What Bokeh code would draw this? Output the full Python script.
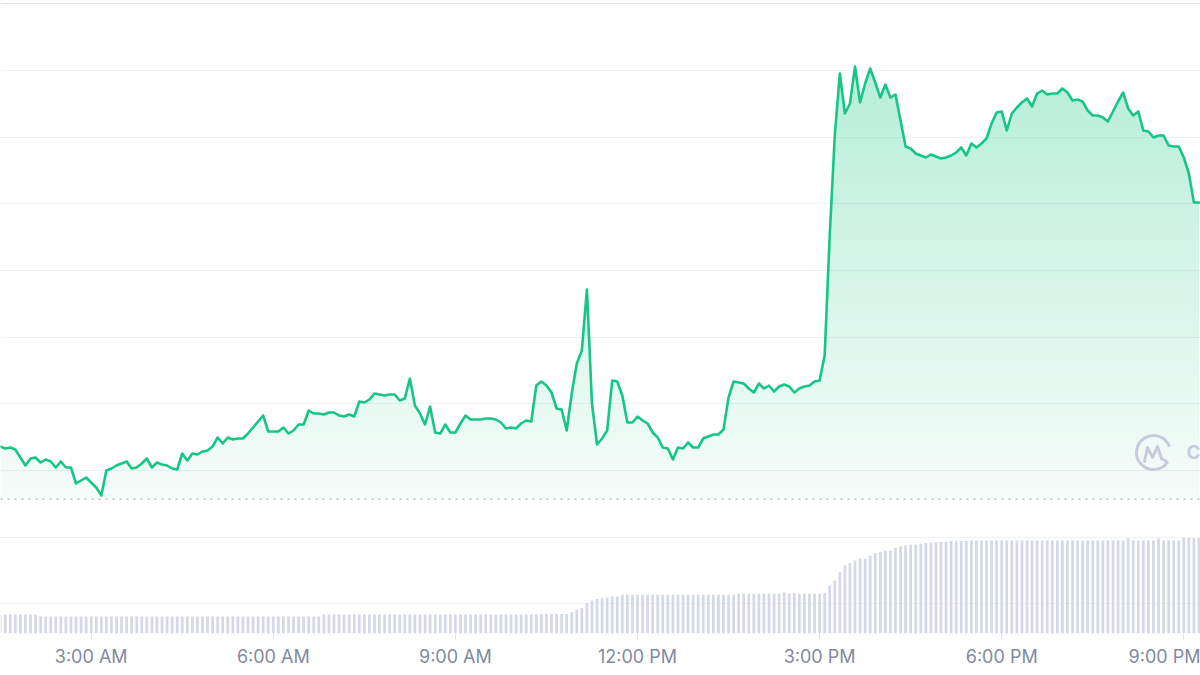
import numpy as np
from bokeh.plotting import figure
from bokeh.models import Range1d, FixedTicker, Grid, Span
from bokeh.core.properties import value
from bokeh.embed import file_html
from bokeh.resources import INLINE

# ---------------- data ----------------
START_HOUR = 1.5      # first sample at 1:30 AM
STEP_MIN = 5          # 5-minute samples

price = [
    1.536, 1.533, 1.5345, 1.5315, 1.5195, 1.5075, 1.518, 1.5195, 1.512, 1.5165,
    1.5135, 1.5045, 1.5135, 1.5045, 1.5045, 1.4805, 1.485, 1.4895, 1.482, 1.4745,
    1.4625, 1.5, 1.503, 1.5075, 1.5105, 1.5135, 1.503, 1.5045, 1.5105, 1.518,
    1.5045, 1.512, 1.509, 1.5075, 1.503, 1.5015, 1.5255, 1.515, 1.5255, 1.524,
    1.5285, 1.53, 1.536, 1.5495, 1.5405, 1.5495, 1.5465, 1.548, 1.548, 1.5555,
    1.5645, 1.5735, 1.5825, 1.5585, 1.5585, 1.5585, 1.5645, 1.5555, 1.56, 1.569,
    1.569, 1.59, 1.5855, 1.5855, 1.584, 1.587, 1.587, 1.5825, 1.581, 1.584,
    1.581, 1.6035, 1.602, 1.6065, 1.6155, 1.614, 1.6125, 1.614, 1.614, 1.605,
    1.608, 1.638, 1.5975, 1.5855, 1.569, 1.596, 1.557, 1.5555, 1.569, 1.557,
    1.557, 1.5705, 1.5825, 1.5765, 1.5765, 1.5765, 1.578, 1.578, 1.5765, 1.572,
    1.563, 1.5645, 1.563, 1.5705, 1.575, 1.5735, 1.6275, 1.6335, 1.6275, 1.617,
    1.593, 1.5915, 1.56, 1.6155, 1.6605, 1.68, 1.7715, 1.6005, 1.539, 1.548,
    1.56, 1.635, 1.6335, 1.6125, 1.572, 1.572, 1.581, 1.575, 1.5705, 1.557,
    1.5495, 1.5345, 1.533, 1.5165, 1.5345, 1.533, 1.542, 1.5345, 1.5345, 1.548,
    1.551, 1.554, 1.554, 1.5615, 1.6095, 1.6335, 1.632, 1.6305, 1.623, 1.617,
    1.6305, 1.623, 1.6275, 1.6185, 1.626, 1.629, 1.626, 1.617, 1.623, 1.626,
    1.6275, 1.6335, 1.635, 1.6725, 1.8525, 2.0025, 2.0955, 2.0355, 2.0505, 2.106,
    2.052, 2.0805, 2.103, 2.082, 2.0595, 2.079, 2.0595, 2.064, 2.025, 1.986,
    1.983, 1.9755, 1.9725, 1.9695, 1.974, 1.971, 1.968, 1.9695, 1.9725, 1.977,
    1.9845, 1.9725, 1.9905, 1.9845, 1.9905, 1.998, 2.0205, 2.037, 2.0385, 2.01,
    2.0355, 2.0445, 2.052, 2.058, 2.046, 2.0655, 2.07, 2.064, 2.0655, 2.0655,
    2.073, 2.067, 2.055, 2.0565, 2.0535, 2.04, 2.0325, 2.0325, 2.0295, 2.0235,
    2.0385, 2.0535, 2.067, 2.043, 2.0325, 2.0385, 2.01, 2.0085, 1.9995, 2.0025,
    2.0025, 1.9875, 1.986, 1.986, 1.9695, 1.9455, 1.902, 1.902,
]

volume = [
    0.95, 0.95, 0.95, 0.95, 0.95, 0.95, 0.95, 0.95,
    0.85, 0.85, 0.85, 0.85, 0.85, 0.85, 0.85, 0.85, 0.85, 0.85,
    0.85, 0.85, 0.85, 0.85, 0.85, 0.85, 0.85, 0.85, 0.85, 0.85,
    0.85, 0.85, 0.85, 0.85, 0.85, 0.85, 0.85, 0.85, 0.85, 0.85,
    0.85, 0.85, 0.85, 0.85, 0.85, 0.85, 0.85, 0.85, 0.85, 0.85,
    0.85, 0.85, 0.85, 0.85, 0.85, 0.85, 0.85, 0.85, 0.85, 0.85,
    0.85, 0.85, 0.85, 0.85, 0.85, 0.85,
    0.95, 0.95, 0.95, 0.95, 0.95, 0.95, 0.95, 0.95, 0.95, 0.95,
    0.95, 0.95, 0.95, 0.95, 0.95, 0.95, 0.95, 0.95, 0.95, 0.95,
    0.95, 0.95, 0.95, 0.95, 0.95, 0.95, 0.95, 0.95, 0.95, 0.95,
    0.95, 0.95, 0.95, 0.95, 0.95, 0.95, 0.95, 0.95, 0.95, 0.95,
    0.95, 0.95,
    0.98, 0.98, 0.98, 0.98, 0.98, 0.98, 0.98,
    1.07, 1.19, 1.27, 1.52, 1.65, 1.72, 1.77, 1.79, 1.85, 1.85,
    1.94, 1.94, 1.94, 1.94, 1.94, 1.94, 1.94, 1.94, 1.94, 1.94,
    1.94, 1.94, 1.94, 1.94, 1.94, 1.94, 1.94, 1.94, 1.94, 1.94,
    1.94, 1.94, 1.94,
    1.99, 1.99, 1.99, 1.99, 1.99, 1.99, 1.99, 1.99, 1.99, 2.05,
    1.99, 2.03, 1.99, 1.99, 1.99, 1.99, 1.99,
    2.03, 2.40, 2.65, 3.07, 3.40, 3.52, 3.65, 3.74, 3.74, 3.90,
    4.02, 4.07, 4.15, 4.15, 4.27, 4.35, 4.40, 4.44, 4.45, 4.49,
    4.52, 4.54, 4.57, 4.57, 4.57, 4.62, 4.62, 4.62, 4.62,
    4.65, 4.65, 4.65, 4.65, 4.65, 4.65, 4.65, 4.65, 4.65, 4.65,
    4.65, 4.65, 4.65, 4.65, 4.65, 4.65, 4.65, 4.65, 4.65, 4.65,
    4.65, 4.65, 4.65, 4.65, 4.65, 4.65, 4.65, 4.65, 4.65, 4.65,
    4.65, 4.75, 4.65, 4.65, 4.65, 4.65, 4.65, 4.75, 4.65, 4.65,
    4.65, 4.65, 4.77, 4.77, 4.77, 4.77,
]

open_price = 1.457
tick_hours = [3, 6, 9, 12, 15, 18, 21]
tick_labels = ["3:00 AM", "6:00 AM", "9:00 AM", "12:00 PM", "3:00 PM", "6:00 PM", "9:00 PM"]
grid_levels = [1.3, 1.4, 1.5, 1.6, 1.7, 1.8, 1.9, 2.0, 2.1]

# ---------------- layout constants ----------------
X_START, X_END = 1.5058, 21.275
Y_BOT, Y_TOP = 1.2555, 2.205
VOL_MAX = 31.65
GREEN = "#16c784"

t = START_HOUR + np.arange(len(price)) * STEP_MIN / 60.0
pr = np.array(price, dtype=float)

p = figure(frame_width=1200, frame_height=633, output_backend="svg",
           toolbar_location=None, x_range=Range1d(X_START, X_END),
           y_range=Range1d(Y_BOT, Y_TOP), y_axis_location=None,
           min_border=0, min_border_bottom=42)
p.extra_y_ranges = {"vol": Range1d(0, VOL_MAX)}
p.outline_line_color = None
p.background_fill_color = "white"
p.border_fill_color = "white"
p.xgrid.visible = False

grid = Grid(dimension=1, ticker=FixedTicker(ticks=grid_levels),
            grid_line_color="#eff1f4", grid_line_width=1)
p.add_layout(grid)

# volume bars
p.vbar(x=t, top=volume, bottom=0, width=0.045, y_range_name="vol",
       fill_color="#d3d9e8", line_color=None)

# gradient area: horizontal bands with increasing alpha
band = 0.012
k = np.arange(0, int((Y_TOP - open_price) / band) + 1)
edges = Y_TOP - k * band
edges = edges[edges > open_price + 1e-9]
edges = np.sort(np.append(edges, open_price))

xd, yd = [t[0]], [pr[0]]
for i in range(len(pr) - 1):
    x0, y0, x1, y1 = t[i], pr[i], t[i + 1], pr[i + 1]
    if y1 != y0:
        lo, hi = min(y0, y1), max(y0, y1)
        cr = edges[(edges > lo) & (edges < hi)]
        if y1 < y0:
            cr = cr[::-1]
        for e in cr:
            xd.append(x0 + (e - y0) / (y1 - y0) * (x1 - x0))
            yd.append(e)
    xd.append(x1)
    yd.append(y1)
xd = np.array(xd)
yd = np.array(yd)

bxs, bys, bal = [], [], []
for lo, hi in zip(edges[:-1], edges[1:]):
    if pr.max() <= lo:
        continue
    top = np.clip(yd, lo, hi)
    bxs.append(np.concatenate([xd, xd[::-1]]).tolist())
    bys.append(np.concatenate([top, np.full(len(xd), lo)]).tolist())
    mid = 0.5 * (lo + hi)
    bal.append(float(np.clip(0.04 + 0.27 * (mid - open_price) / 0.648, 0.0, 0.32)))

p.patches(xs=bxs, ys=bys, fill_color=GREEN, fill_alpha=bal, line_color=None)

# open-price dotted line
p.add_layout(Span(location=open_price, dimension="width", line_color="#b9c0cc",
                  line_width=1.5, line_dash="2 5"))

# price line
p.line(t, pr, line_color=GREEN, line_width=2.6, line_join="round", line_cap="round")

# watermark logo
LOGO_X, LOGO_Y = 20.5005, 1.527
PX_H, PX_P = 1 / 60.70, 0.0015
LOGO_C = "#c6ccdc"
p.arc(x=[LOGO_X], y=[LOGO_Y], radius=17, radius_units="screen",
      start_angle=0.35, end_angle=5.73, direction="anticlock",
      line_color=LOGO_C, line_width=3)
m_dx = [-9, -6, -1, 4, 8, 13]
m_dy = [9, -5, 5, -6, 6, 9]
p.line([LOGO_X + d * PX_H for d in m_dx], [LOGO_Y - d * PX_P for d in m_dy],
       line_color=LOGO_C, line_width=3, line_join="round", line_cap="round")
p.text(x=[21.0445], y=[LOGO_Y], text=["CoinMarketCap"], text_font=value("Inter"),
       text_font_size="19px", text_font_style="bold", text_color=LOGO_C,
       text_baseline="middle", text_align="left")

# x axis
ax = p.xaxis[0]
ax.ticker = FixedTicker(ticks=tick_hours)
ax.major_label_overrides = {h: lab for h, lab in zip(tick_hours, tick_labels)}
ax.axis_line_color = None
ax.major_tick_line_color = "#dde1e8"
ax.major_tick_out = 6
ax.major_tick_in = 0
ax.minor_tick_line_color = None
ax.major_label_standoff = 6
ax.major_label_text_font = "Inter"
ax.major_label_text_font_size = "18px"
ax.major_label_text_color = "#828a9e"

open("out.html", "w").write(file_html(p, INLINE))
